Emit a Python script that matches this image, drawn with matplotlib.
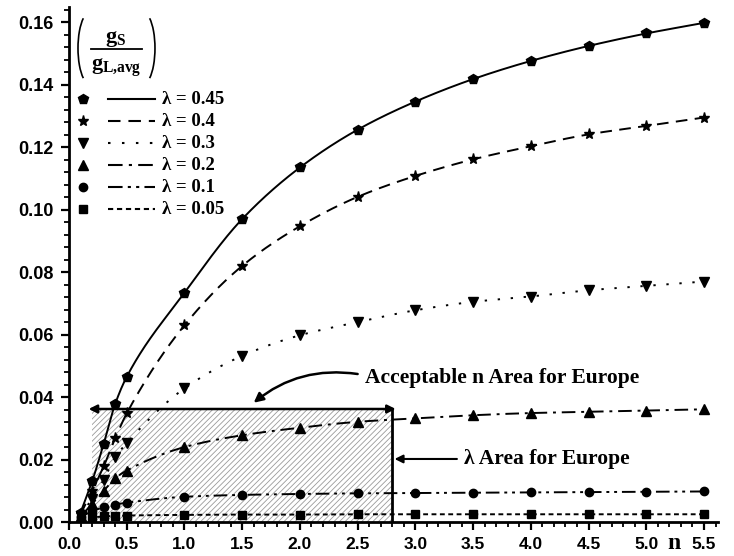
import numpy as np
import matplotlib
matplotlib.use("Agg")
import matplotlib.pyplot as plt
from matplotlib.patches import Rectangle, Arc
from matplotlib.ticker import MultipleLocator, FormatStrFormatter

# shape parameter n and the ratio gS / gL,avg for each lambda
n = [0.1, 0.2, 0.3, 0.4, 0.5, 1.0, 1.5, 2.0, 2.5, 3.0, 3.5, 4.0, 4.5, 5.0, 5.5]
g_045 = [0.0030, 0.0130, 0.0250, 0.0378, 0.0465, 0.0734, 0.0970, 0.1135, 0.1256,
         0.1346, 0.1418, 0.1476, 0.1524, 0.1564, 0.1598]
g_04 = [0.0025, 0.0100, 0.0178, 0.0268, 0.0348, 0.0630, 0.0820, 0.0947, 0.1041,
        0.1108, 0.1161, 0.1203, 0.1241, 0.1268, 0.1295]
g_03 = [0.0020, 0.0075, 0.0135, 0.0207, 0.0253, 0.0428, 0.0532, 0.0598, 0.0640,
        0.0678, 0.0705, 0.0722, 0.0742, 0.0756, 0.0770]
g_02 = [0.0018, 0.0058, 0.0100, 0.0140, 0.0165, 0.0240, 0.0278, 0.0302, 0.0321,
        0.0332, 0.0342, 0.0349, 0.0353, 0.0357, 0.0361]
g_01 = [0.0015, 0.0035, 0.0047, 0.0056, 0.0062, 0.0081, 0.0087, 0.0090, 0.0092,
        0.0093, 0.0094, 0.0095, 0.0096, 0.0097, 0.0098]
g_005 = [0.0010, 0.0015, 0.0018, 0.0020, 0.0021, 0.0023, 0.0024, 0.0024, 0.0025,
         0.0025, 0.0025, 0.0025, 0.0025, 0.0025, 0.0025]

lambdas = ["0.45", "0.4", "0.3", "0.2", "0.1", "0.05"]
series = [g_045, g_04, g_03, g_02, g_01, g_005]
markers = ["p", "*", "v", "^", "o", "s"]
msizes = [7, 8, 6.5, 6.5, 6, 5.5]
dashes = [None, (6, 3.8), (1.2, 5.5), (7, 3, 1.5, 3), (7, 2.5, 1.5, 2.5, 1.5, 2.5), (2.5, 1.8)]

# acceptable region for Europe
n_area = (0.2, 2.8)
lam_area_top = 0.0362


def pchip(xs, ys, xq):
    # monotone cubic (Fritsch-Carlson) so the curve doesn't overshoot
    xs = np.asarray(xs, float)
    ys = np.asarray(ys, float)
    h = np.diff(xs)
    delta = np.diff(ys) / h
    m = np.zeros_like(ys)
    for k in range(1, len(xs) - 1):
        if delta[k - 1] * delta[k] > 0:
            w1 = 2 * h[k] + h[k - 1]
            w2 = h[k] + 2 * h[k - 1]
            m[k] = (w1 + w2) / (w1 / delta[k - 1] + w2 / delta[k])
    m[0] = delta[0]
    m[-1] = delta[-1]
    idx = np.clip(np.searchsorted(xs, xq) - 1, 0, len(xs) - 2)
    t = (xq - xs[idx]) / h[idx]
    h00 = 2 * t**3 - 3 * t**2 + 1
    h10 = t**3 - 2 * t**2 + t
    h01 = -2 * t**3 + 3 * t**2
    h11 = t**3 - t**2
    return (h00 * ys[idx] + h10 * h[idx] * m[idx]
            + h01 * ys[idx + 1] + h11 * h[idx] * m[idx + 1])


plt.rcParams["font.family"] = ["Liberation Sans", "DejaVu Sans"]
plt.rcParams["font.weight"] = "bold"
plt.rcParams["mathtext.fontset"] = "custom"
plt.rcParams["mathtext.rm"] = "Liberation Serif:bold"
plt.rcParams["mathtext.it"] = "Liberation Serif:bold"
plt.rcParams["mathtext.bf"] = "Liberation Serif:bold"
plt.rcParams["hatch.linewidth"] = 0.6

fig = plt.figure(figsize=(7.34, 5.56), dpi=100)
ax = fig.add_axes([0.094, 0.061, 0.884, 0.926])

xx = np.linspace(n[0], n[-1], 600)
for g, mk, ms, ds in zip(series, markers, msizes, dashes):
    line, = ax.plot(xx, pchip(n, g, xx), color="black", lw=1.4)
    if ds is not None:
        line.set_dashes(ds)
    ax.plot(n, g, ls="none", marker=mk, ms=ms, color="black")

# hatched area
ax.add_patch(Rectangle((n_area[0], 0), n_area[1] - n_area[0], lam_area_top,
                       facecolor="none", edgecolor="#9a9a9a", lw=0,
                       hatch="//////", zorder=0.5))
ax.annotate("", xy=(n_area[0] - 0.03, lam_area_top), xytext=(n_area[1] + 0.03, lam_area_top),
            arrowprops=dict(arrowstyle="<|-|>", color="black", lw=1.8,
                            mutation_scale=12, shrinkA=0, shrinkB=0))
ax.plot([n_area[1], n_area[1]], [0, lam_area_top], color="black", lw=2)

serif = ["Liberation Serif", "DejaVu Serif"]
ax.annotate("", xy=(1.60, 0.0382), xytext=(2.50, 0.0474),
            arrowprops=dict(arrowstyle="-|>", color="black", lw=1.8,
                            mutation_scale=14, shrinkA=0, shrinkB=0,
                            connectionstyle="arc3,rad=0.22"))
ax.text(2.56, 0.0462, "Acceptable n Area for Europe", family=serif,
        fontsize=15.5, fontweight="bold", va="center", ha="left")
ax.annotate("", xy=(2.82, 0.0202), xytext=(3.36, 0.0202),
            arrowprops=dict(arrowstyle="-|>", color="black", lw=1.5,
                            mutation_scale=12, shrinkA=0, shrinkB=0))
ax.text(3.42, 0.0202, "\u03bb Area for Europe", family=serif,
        fontsize=15.5, fontweight="bold", va="center", ha="left")


def axfrac(px, py):
    # pixel position in the figure -> axes fraction
    return (px - 69) / 649, (522 - py) / 515


# legend header: (gS / gL,avg)
tx, ty = axfrac(116, 38)
ax.text(tx, ty, r"$g_S$", transform=ax.transAxes, fontsize=16, ha="center", va="center")
bx0, by = axfrac(91, 49)
bx1, _ = axfrac(142, 49)
ax.plot([bx0, bx1], [by, by], color="black", lw=1.3, transform=ax.transAxes)
tx, ty = axfrac(116, 68)
ax.text(tx, ty, r"$g_{L{,}avg}$", transform=ax.transAxes, fontsize=16, ha="center", va="center")
for cx, t1, t2 in [(90, 100, 260), (143, -80, 80)]:
    px, py = axfrac(cx, 48)
    ax.add_patch(Arc((px, py), 24 / 649, 72 / 515, theta1=t1, theta2=t2,
                     transform=ax.transAxes, color="black", lw=1.2))

# legend rows drawn by hand: marker, line sample, label
for i, (lam, mk, ms, ds) in enumerate(zip(lambdas, markers, msizes, dashes)):
    yr = (522 - (99 + 22 * i)) / 515
    ax.plot([0.0216], [yr], marker=mk, ms=ms, color="black", transform=ax.transAxes,
            clip_on=False)
    seg, = ax.plot([0.060, 0.1325], [yr, yr], color="black", lw=1.5,
                   transform=ax.transAxes)
    if ds is not None:
        seg.set_dashes(ds)
    ax.text(0.143, yr, "\u03bb = " + lam, transform=ax.transAxes, family=serif,
            fontsize=13.5, fontweight="bold", va="center", ha="left")

ax.set_xlim(0, 5.62)
ax.set_ylim(0, 0.1648)
ax.xaxis.set_major_locator(MultipleLocator(0.5))
ax.xaxis.set_minor_locator(MultipleLocator(0.1))
ax.yaxis.set_major_locator(MultipleLocator(0.02))
ax.yaxis.set_minor_locator(MultipleLocator(0.004))
ax.xaxis.set_major_formatter(FormatStrFormatter("%.1f"))
ax.yaxis.set_major_formatter(FormatStrFormatter("%.2f"))
ax.tick_params(which="major", direction="out", length=6, width=1.6)
ax.tick_params(which="minor", direction="out", length=3.5, width=1.3)
ax.tick_params(axis="y", which="major", labelsize=13, pad=5)
ax.tick_params(axis="x", which="major", labelsize=12.5, pad=5)
for lbl in ax.get_xticklabels() + ax.get_yticklabels():
    lbl.set_fontweight("bold")
for side in ["top", "right"]:
    ax.spines[side].set_visible(False)
for side in ["left", "bottom"]:
    ax.spines[side].set_linewidth(2)

ax.set_xlabel("n", family=serif, fontsize=17, fontweight="bold")
ax.xaxis.set_label_coords(0.933, -0.022)

fig.savefig("out.png", dpi=100)
